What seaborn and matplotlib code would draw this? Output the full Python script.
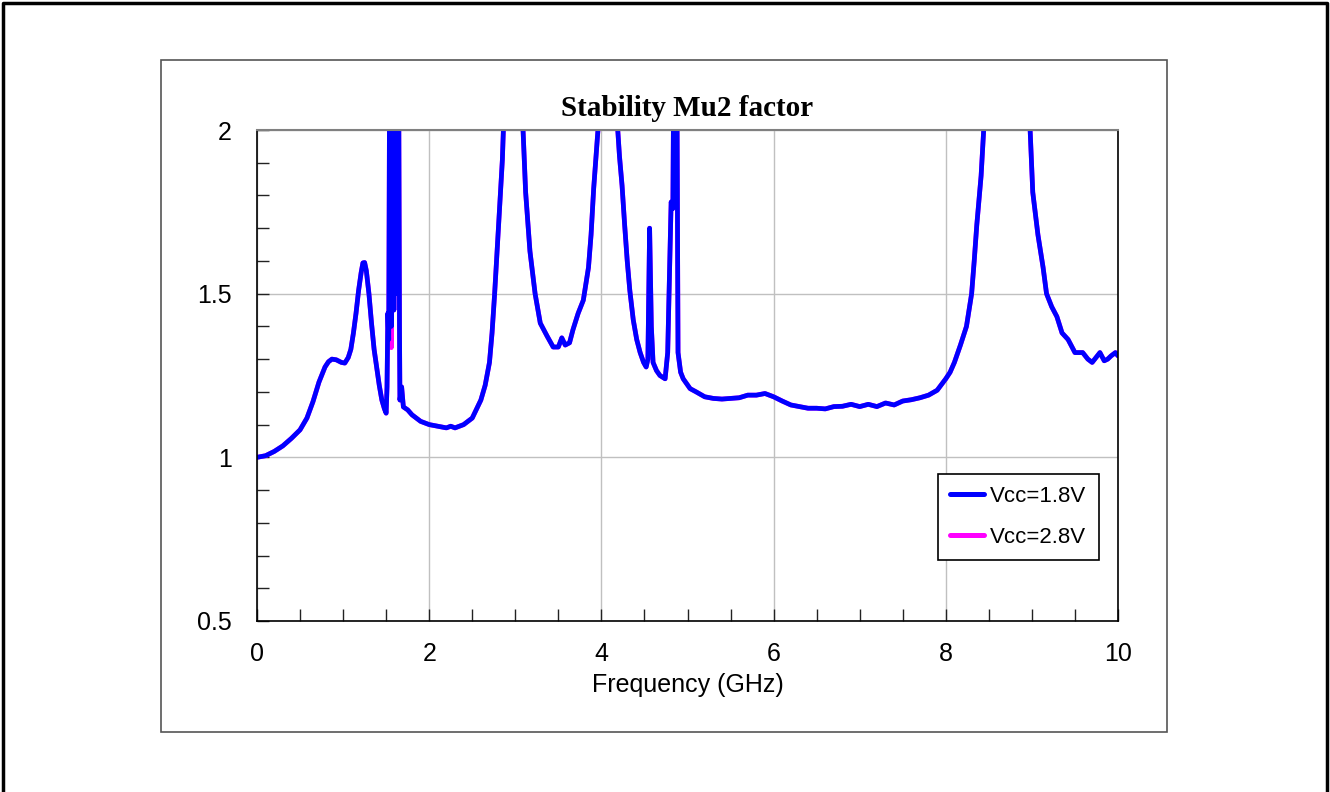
import numpy as np
import matplotlib
matplotlib.use("Agg")
import matplotlib.pyplot as plt
import pandas as pd
import seaborn as sns
from matplotlib.lines import Line2D
from matplotlib.patches import Rectangle
from matplotlib.ticker import MultipleLocator

# frequency points (GHz)
freq = [0.0, 0.1, 0.2, 0.3, 0.4, 0.5, 0.58, 0.65, 0.72, 0.79, 0.83, 0.87, 0.92, 0.98, 1.02, 1.06,
        1.09, 1.12, 1.15, 1.18, 1.21, 1.23, 1.25, 1.27, 1.30, 1.33, 1.36, 1.39, 1.42, 1.45,
        1.48, 1.50, 1.51, 1.52, 1.53, 1.545, 1.56, 1.575, 1.59, 1.605, 1.62, 1.64, 1.655,
        1.66, 1.68, 1.70, 1.75, 1.8, 1.9, 2.0, 2.1, 2.2, 2.25, 2.3, 2.4, 2.5, 2.6, 2.65,
        2.7, 2.73, 2.76, 2.80, 2.85, 2.9, 3.0, 3.05, 3.09, 3.12, 3.17, 3.23, 3.29, 3.37,
        3.44, 3.50, 3.54, 3.58, 3.63, 3.67, 3.73, 3.79, 3.82, 3.85, 3.88, 3.91, 3.96, 4.05,
        4.15, 4.19, 4.21, 4.24, 4.27, 4.3, 4.33, 4.37, 4.41, 4.45, 4.49, 4.52, 4.54, 4.56,
        4.58, 4.60, 4.64, 4.68, 4.74, 4.77, 4.81, 4.83, 4.85, 4.87, 4.89, 4.92, 4.95, 5.03,
        5.1, 5.2, 5.3, 5.4, 5.5, 5.6, 5.7, 5.8, 5.9, 6.0, 6.1, 6.2, 6.3, 6.4, 6.5, 6.6,
        6.7, 6.8, 6.9, 7.0, 7.1, 7.2, 7.3, 7.4, 7.5, 7.6, 7.7, 7.8, 7.9, 8.0, 8.05, 8.1,
        8.17, 8.24, 8.30, 8.33, 8.36, 8.41, 8.44, 8.55, 8.7, 8.85, 8.98, 9.01, 9.07, 9.13, 9.17,
        9.23, 9.29, 9.35, 9.42, 9.5, 9.59, 9.65, 9.7, 9.79, 9.84, 9.88, 9.92, 9.97, 10.0]

# Vcc = 1.8 V
mu2_18 = [1.000, 1.005, 1.018, 1.035, 1.058, 1.084, 1.12, 1.17, 1.23, 1.276, 1.292, 1.30, 1.298, 1.29, 1.288, 1.305,
          1.33, 1.38, 1.44, 1.51, 1.565, 1.594, 1.595, 1.57, 1.50, 1.41, 1.33, 1.276, 1.22, 1.175,
          1.148, 1.135, 1.215, 1.44, 1.36, 2.6, 1.40, 2.6, 1.45, 2.6, 1.50, 2.6, 1.40,
          1.175, 1.215, 1.154, 1.145, 1.13, 1.11, 1.10, 1.095, 1.09, 1.095, 1.09, 1.10, 1.12, 1.175, 1.22,
          1.29, 1.38, 1.50, 1.68, 1.91, 2.3, 3.0, 2.4, 2.0, 1.81, 1.63, 1.50, 1.41, 1.37,
          1.337, 1.337, 1.365, 1.343, 1.35, 1.39, 1.44, 1.48, 1.53, 1.58, 1.68, 1.82, 2.0, 3.0,
          2.3, 2.0, 1.92, 1.83, 1.71, 1.60, 1.51, 1.42, 1.36, 1.32, 1.29, 1.276, 1.30, 1.70,
          1.40, 1.29, 1.265, 1.25, 1.24, 1.32, 1.78, 1.76, 2.6, 2.6, 1.32, 1.26, 1.24, 1.21,
          1.20, 1.185, 1.18, 1.178, 1.18, 1.182, 1.19, 1.19, 1.195, 1.185, 1.172, 1.16, 1.155, 1.15, 1.15, 1.148,
          1.155, 1.156, 1.162, 1.155, 1.162, 1.155, 1.166, 1.16, 1.172, 1.176, 1.182, 1.19, 1.205, 1.24, 1.26, 1.29,
          1.343, 1.40, 1.50, 1.60, 1.71, 1.86, 2.0, 2.8, 3.2, 2.8, 2.0, 1.81, 1.68, 1.58, 1.50,
          1.46, 1.43, 1.38, 1.36, 1.32, 1.32, 1.30, 1.29, 1.32, 1.295, 1.30, 1.31, 1.32, 1.31]

# Vcc = 2.8 V (almost identical, differs in the spike cluster)
mu2_28 = [1.000, 1.005, 1.018, 1.035, 1.058, 1.084, 1.12, 1.17, 1.23, 1.276, 1.292, 1.30, 1.298, 1.29, 1.288, 1.305,
          1.33, 1.38, 1.44, 1.51, 1.565, 1.594, 1.595, 1.57, 1.50, 1.41, 1.33, 1.276, 1.22, 1.175,
          1.148, 1.135, 1.215, 1.44, 1.36, 2.6, 1.335, 2.6, 1.45, 2.6, 1.50, 2.6, 1.40,
          1.175, 1.215, 1.154, 1.145, 1.13, 1.11, 1.10, 1.095, 1.09, 1.095, 1.09, 1.10, 1.12, 1.175, 1.22,
          1.29, 1.38, 1.50, 1.68, 1.91, 2.3, 3.0, 2.4, 2.0, 1.81, 1.63, 1.50, 1.41, 1.37,
          1.337, 1.337, 1.365, 1.343, 1.35, 1.39, 1.44, 1.48, 1.53, 1.58, 1.68, 1.82, 2.0, 3.0,
          2.3, 2.0, 1.92, 1.83, 1.71, 1.60, 1.51, 1.42, 1.36, 1.32, 1.29, 1.276, 1.30, 1.70,
          1.40, 1.29, 1.265, 1.25, 1.24, 1.32, 1.78, 1.76, 2.6, 2.6, 1.32, 1.26, 1.24, 1.21,
          1.20, 1.185, 1.18, 1.178, 1.18, 1.182, 1.19, 1.19, 1.195, 1.185, 1.172, 1.16, 1.155, 1.15, 1.15, 1.148,
          1.155, 1.156, 1.162, 1.155, 1.162, 1.155, 1.166, 1.16, 1.172, 1.176, 1.182, 1.19, 1.205, 1.24, 1.26, 1.29,
          1.343, 1.40, 1.50, 1.60, 1.71, 1.86, 2.0, 2.8, 3.2, 2.8, 2.0, 1.81, 1.68, 1.58, 1.50,
          1.46, 1.43, 1.38, 1.36, 1.32, 1.32, 1.30, 1.29, 1.32, 1.295, 1.30, 1.31, 1.32, 1.31]

x_ticks = [0, 2, 4, 6, 8, 10]
y_ticks = [0.5, 1, 1.5, 2]

df18 = pd.DataFrame({"freq": freq, "mu2": mu2_18})
df28 = pd.DataFrame({"freq": freq, "mu2": mu2_28})

sns.set_style("white")
plt.rcParams["font.family"] = ["Liberation Sans", "DejaVu Sans"]
plt.rcParams["text.color"] = "black"
plt.rcParams["axes.labelcolor"] = "black"
plt.rcParams["xtick.color"] = "black"
plt.rcParams["ytick.color"] = "black"

fig = plt.figure(figsize=(13.3, 7.92), dpi=100)
ax = fig.add_axes([257 / 1330, 1 - 621 / 792, (1118 - 257) / 1330, (621 - 130) / 792])

# magenta underneath, blue on top
sns.lineplot(data=df28, x="freq", y="mu2", ax=ax, color="#ff00ff", lw=3.4,
             estimator=None, sort=False, label="Vcc=2.8V", solid_joinstyle="round")
sns.lineplot(data=df18, x="freq", y="mu2", ax=ax, color="#0000ff", lw=3.4,
             estimator=None, sort=False, label="Vcc=1.8V", solid_joinstyle="round")

ax.set_xlim(0, 10)
ax.set_ylim(0.5, 2)
ax.set_xticks(x_ticks)
ax.set_yticks(y_ticks)
ax.set_xticklabels([str(t) for t in x_ticks])
ax.set_yticklabels(["0.5", "1", "1.5", "2"])
ax.xaxis.set_minor_locator(MultipleLocator(0.5))
ax.yaxis.set_minor_locator(MultipleLocator(0.1))
ax.grid(True, which="major", color="#c0c0c0", lw=1)
ax.tick_params(which="both", direction="in", length=8.5, width=1, color="#222222")
ax.tick_params(axis="y", which="both", left=True, labelsize=18, pad=18)
ax.tick_params(axis="x", which="both", bottom=True, labelsize=18, pad=15)

for side in ["left", "bottom", "right"]:
    ax.spines[side].set_color("black")
    ax.spines[side].set_linewidth(1.2)
ax.spines["top"].set_color("#808080")
ax.spines["top"].set_linewidth(1.5)

ax.set_xlabel("Frequency (GHz)", fontsize=18, labelpad=5)
ax.set_ylabel("")
ax.set_title("Stability Mu2 factor", fontsize=21, fontweight="bold",
             family=["Liberation Serif", "DejaVu Serif"], pad=10)

handles, labels = ax.get_legend_handles_labels()
leg = ax.legend(handles[::-1], labels[::-1], loc="upper left",
                bbox_to_anchor=(938 / 1330, 1 - 474 / 792), bbox_transform=fig.transFigure,
                borderaxespad=0, fancybox=False, framealpha=1, edgecolor="black",
                fontsize=16, handlelength=1.5, handletextpad=0.3, labelspacing=0.9,
                borderpad=0.55)
leg.get_frame().set_linewidth(1.2)
for line in leg.get_lines():
    line.set_linewidth(3.6)

# inner chart box and outer frame
fig.patches.append(Rectangle((161 / 1330, 1 - 732 / 792), (1167 - 161) / 1330, (732 - 60) / 792,
                             transform=fig.transFigure, fill=False, edgecolor="#555555", lw=1.2))
fig.lines.append(Line2D([3 / 1330, 3 / 1330, 1327 / 1330, 1327 / 1330], [0, 1 - 3 / 792, 1 - 3 / 792, 0],
                        transform=fig.transFigure, color="black", lw=2.5))

fig.savefig("out.png", dpi=100)
